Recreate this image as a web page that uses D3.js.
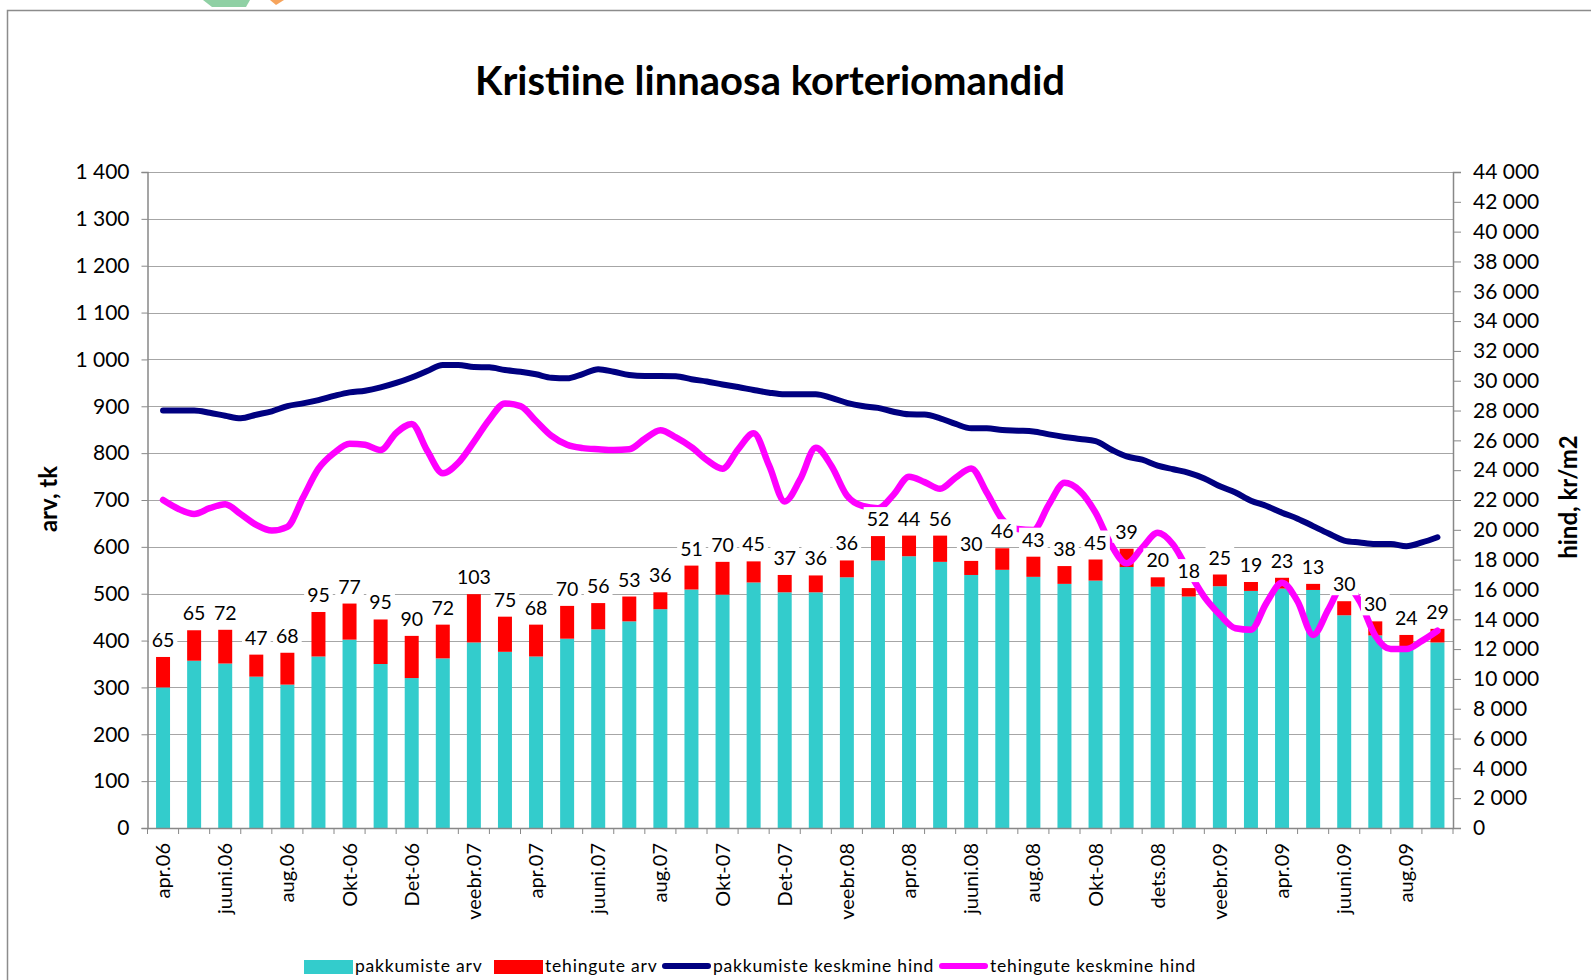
<!DOCTYPE html>
<html>
<head>
<meta charset="utf-8">
<script src="https://cdn.jsdelivr.net/npm/d3@7"></script>
<style>
  body { margin: 0; background: #fff; }
  svg text { font-family: Lato, "Open Sans", sans-serif; fill: #000; }
</style>
</head>
<body>
<div id="chart-area"></div>
<script>
// months (bars)
var months = ["apr.06","mai.06","juuni.06","juuli.06","aug.06","sept.06","Okt-06","Nov-06","Det-06",
  "jaan.07","veebr.07","märts.07","apr.07","mai.07","juuni.07","juuli.07","aug.07","sept.07","Okt-07","Nov-07","Det-07",
  "jaan.08","veebr.08","märts.08","apr.08","mai.08","juuni.08","juuli.08","aug.08","sept.08","Okt-08","nov.08","dets.08",
  "jaan.09","veebr.09","märts.09","apr.09","mai.09","juuni.09","juuli.09","aug.09","sept.09"];

// pakkumiste arv (teal)
var offers = [300,357,351,323,306,366,402,350,320,362,396,376,366,404,
  424,441,467,509,498,524,503,503,535,571,580,568,540,551,536,521,
  528,557,515,494,516,506,511,508,454,411,388,396];

// tehingute arv (red, labelled)
var deals = [65,65,72,47,68,95,77,95,90,72,103,75,68,70,
  56,53,36,51,70,45,37,36,36,52,44,56,30,46,43,38,
  45,39,20,18,25,19,23,13,30,30,24,29];

// average prices, read twice per month (kr/m2)
var offerPrice = [28000,28000,28000,27850,27650,27480,27720,27950,28300,28480,
  28700,28980,29220,29330,29550,29850,30220,30650,31050,31050,
  30920,30900,30720,30600,30430,30200,30160,30450,30770,30600,
  30380,30320,30320,30300,30100,29950,29750,29580,29380,29200,
  29090,29090,29090,28850,28520,28300,28180,27920,27750,27730,
  27480,27100,26810,26810,26700,26650,26600,26400,26230,26090,
  25950,25390,24920,24700,24300,24060,23820,23450,22920,22500,
  21950,21600,21150,20750,20250,19750,19280,19150,19050,19050,
  18900,19150,19500];

var dealPrice = [22000,21400,21060,21450,21720,21050,20330,19950,20200,22150,
  24100,25150,25780,25700,25350,26500,27100,25300,23800,24500,
  25900,27400,28480,28300,27300,26300,25700,25480,25400,25350,
  25400,26100,26680,26200,25550,24680,24100,25400,26470,24300,
  21900,23400,25500,24300,22300,21600,21450,22350,23560,23200,
  22750,23500,24120,22500,20700,20050,19990,21700,23150,22600,
  21150,19000,17750,18800,19800,19000,17200,15500,14300,13400,
  13300,15100,16450,15200,12950,14700,16400,15200,12900,12000,
  12000,12550,13230];

var leftTicks = d3.range(0, 1401, 100);
var rightTicks = d3.range(0, 44001, 2000);

var series = [
  {name: "pakkumiste arv", color: "#33CCCC", type: "rect"},
  {name: "tehingute arv", color: "#FF0000", type: "rect"},
  {name: "pakkumiste keskmine hind", color: "#000080", type: "line"},
  {name: "tehingute keskmine hind", color: "#FF00FF", type: "line"}
];

var width = 1591, height = 980;
var plot = {left: 147.5, right: 1453, top: 172, bottom: 828};

var svg = d3.select("#chart-area").append("svg")
    .attr("width", width)
    .attr("height", height);

// logo fragment + chart frame
svg.append("polygon").attr("points", "203,0 250,0 246,7 212,7").attr("fill", "#8fd0a4");
svg.append("polygon").attr("points", "270,0 284,0 276,5").attr("fill", "#f6a45c");
svg.append("rect").attr("x", 7.5).attr("y", 10.5).attr("width", 1600).attr("height", 1000)
    .attr("fill", "none").attr("stroke", "#8c8c8c").attr("stroke-width", 1.5);

svg.append("text")
    .attr("x", 770).attr("y", 95)
    .attr("text-anchor", "middle")
    .attr("font-size", "40px").attr("font-weight", "bold")
    .text("Kristiine linnaosa korteriomandid");

var x = d3.scaleBand()
    .domain(months)
    .range([plot.left, plot.right])
    .paddingInner(0.55)
    .paddingOuter(0.275);

var xi = d3.scaleLinear().domain([-0.5, months.length - 0.5]).range([plot.left, plot.right]);

var y = d3.scaleLinear().domain([0, 1400]).range([plot.bottom, plot.top]);
var y2 = d3.scaleLinear().domain([0, 44000]).range([plot.bottom, plot.top]);

var fmt = function(d){ return d3.format(",")(d).replace(/,/g, " "); };

// gridlines
svg.append("g").selectAll("line").data(leftTicks.slice(1)).enter().append("line")
    .attr("x1", plot.left).attr("x2", plot.right)
    .attr("y1", function(d){ return Math.round(y(d)) + 0.5; })
    .attr("y2", function(d){ return Math.round(y(d)) + 0.5; })
    .attr("stroke", "#a6a6a6").attr("stroke-width", 1);

// bars
var bars = svg.append("g");
bars.selectAll(".offer").data(months).enter().append("rect")
    .attr("x", function(d){ return x(d); })
    .attr("width", x.bandwidth())
    .attr("y", function(d, i){ return y(offers[i]); })
    .attr("height", function(d, i){ return y(0) - y(offers[i]); })
    .attr("fill", series[0].color);
bars.selectAll(".deal").data(months).enter().append("rect")
    .attr("x", function(d){ return x(d); })
    .attr("width", x.bandwidth())
    .attr("y", function(d, i){ return y(offers[i] + deals[i]); })
    .attr("height", function(d, i){ return y(offers[i]) - y(offers[i] + deals[i]); })
    .attr("fill", series[1].color);

// price lines
var line = d3.line()
    .x(function(d, k){ return xi(k / 2); })
    .y(function(d){ return y2(d); })
    .curve(d3.curveMonotoneX);

svg.append("path").datum(offerPrice)
    .attr("d", line).attr("fill", "none")
    .attr("stroke", series[2].color).attr("stroke-width", 6)
    .attr("stroke-linejoin", "round").attr("stroke-linecap", "round");
svg.append("path").datum(dealPrice)
    .attr("d", line).attr("fill", "none")
    .attr("stroke", series[3].color).attr("stroke-width", 6.5)
    .attr("stroke-linejoin", "round").attr("stroke-linecap", "round");

// data labels with white boxes
var labels = svg.append("g");
months.forEach(function(m, i){
  var cx = x(m) + x.bandwidth() / 2;
  var cy = y(offers[i] + deals[i]) - 17;
  var lg = labels.append("g");
  var t = lg.append("text")
      .attr("x", cx).attr("y", cy + 7)
      .attr("text-anchor", "middle")
      .attr("font-size", "19.5px")
      .text(deals[i]);
  var bb = t.node().getBBox();
  lg.insert("rect", "text")
      .attr("x", bb.x - 3).attr("y", bb.y)
      .attr("width", bb.width + 6).attr("height", bb.height)
      .attr("fill", "#fff");
});

// axes
var xAxis = d3.axisBottom(x)
    .tickSize(0)
    .tickPadding(12)
    .tickFormat(function(d, i){ return i % 2 === 0 ? d : ""; });
var gx = svg.append("g")
    .attr("transform", "translate(0," + plot.bottom + ")")
    .call(xAxis);
gx.select(".domain").attr("stroke", "#888");
gx.selectAll("text")
    .attr("font-size", "20px")
    .attr("text-anchor", "end")
    .attr("transform", "rotate(-90)")
    .attr("x", -15).attr("y", 0).attr("dy", "0.35em");
// category boundary ticks
svg.append("g").selectAll("line").data(d3.range(months.length + 1)).enter().append("line")
    .attr("x1", function(k){ return xi(k - 0.5); })
    .attr("x2", function(k){ return xi(k - 0.5); })
    .attr("y1", plot.bottom).attr("y2", plot.bottom + 6)
    .attr("stroke", "#888");

var gy = svg.append("g")
    .attr("transform", "translate(" + plot.left + ",0)")
    .call(d3.axisLeft(y).tickValues(leftTicks).tickSize(6).tickPadding(12).tickFormat(fmt));
gy.select(".domain").attr("stroke", "#888");
gy.selectAll(".tick line").attr("stroke", "#888");
gy.selectAll("text").attr("font-size", "21px");

var gy2 = svg.append("g")
    .attr("transform", "translate(" + plot.right + ",0)")
    .call(d3.axisRight(y2).tickValues(rightTicks).tickSize(8).tickPadding(12).tickFormat(fmt));
gy2.select(".domain").attr("stroke", "#888");
gy2.selectAll(".tick line").attr("stroke", "#888");
gy2.selectAll("text").attr("font-size", "21px");

svg.selectAll(".domain").attr("stroke-width", 1.5);

// axis titles
svg.append("text")
    .attr("transform", "translate(57,499) rotate(-90)")
    .attr("text-anchor", "middle")
    .attr("font-size", "24px").attr("font-weight", "bold")
    .text("arv, tk");
svg.append("text")
    .attr("transform", "translate(1577,497) rotate(-90)")
    .attr("text-anchor", "middle")
    .attr("font-size", "24px").attr("font-weight", "bold")
    .text("hind, kr/m2");

// legend
var legendX = [304, 494, 662, 939];
var leg = svg.append("g");
series.forEach(function(s, i){
  var lx = legendX[i];
  if (s.type === "rect") {
    leg.append("rect").attr("x", lx).attr("y", 960).attr("width", 49).attr("height", 14).attr("fill", s.color);
  } else {
    leg.append("line").attr("x1", lx + 3).attr("x2", lx + 46).attr("y1", 966).attr("y2", 966)
        .attr("stroke", s.color).attr("stroke-width", 6).attr("stroke-linecap", "round");
  }
  leg.append("text").attr("x", lx + 51).attr("y", 972)
      .attr("font-size", "17.5px").attr("letter-spacing", "0.8px").text(s.name);
});
</script>
</body>
</html>
